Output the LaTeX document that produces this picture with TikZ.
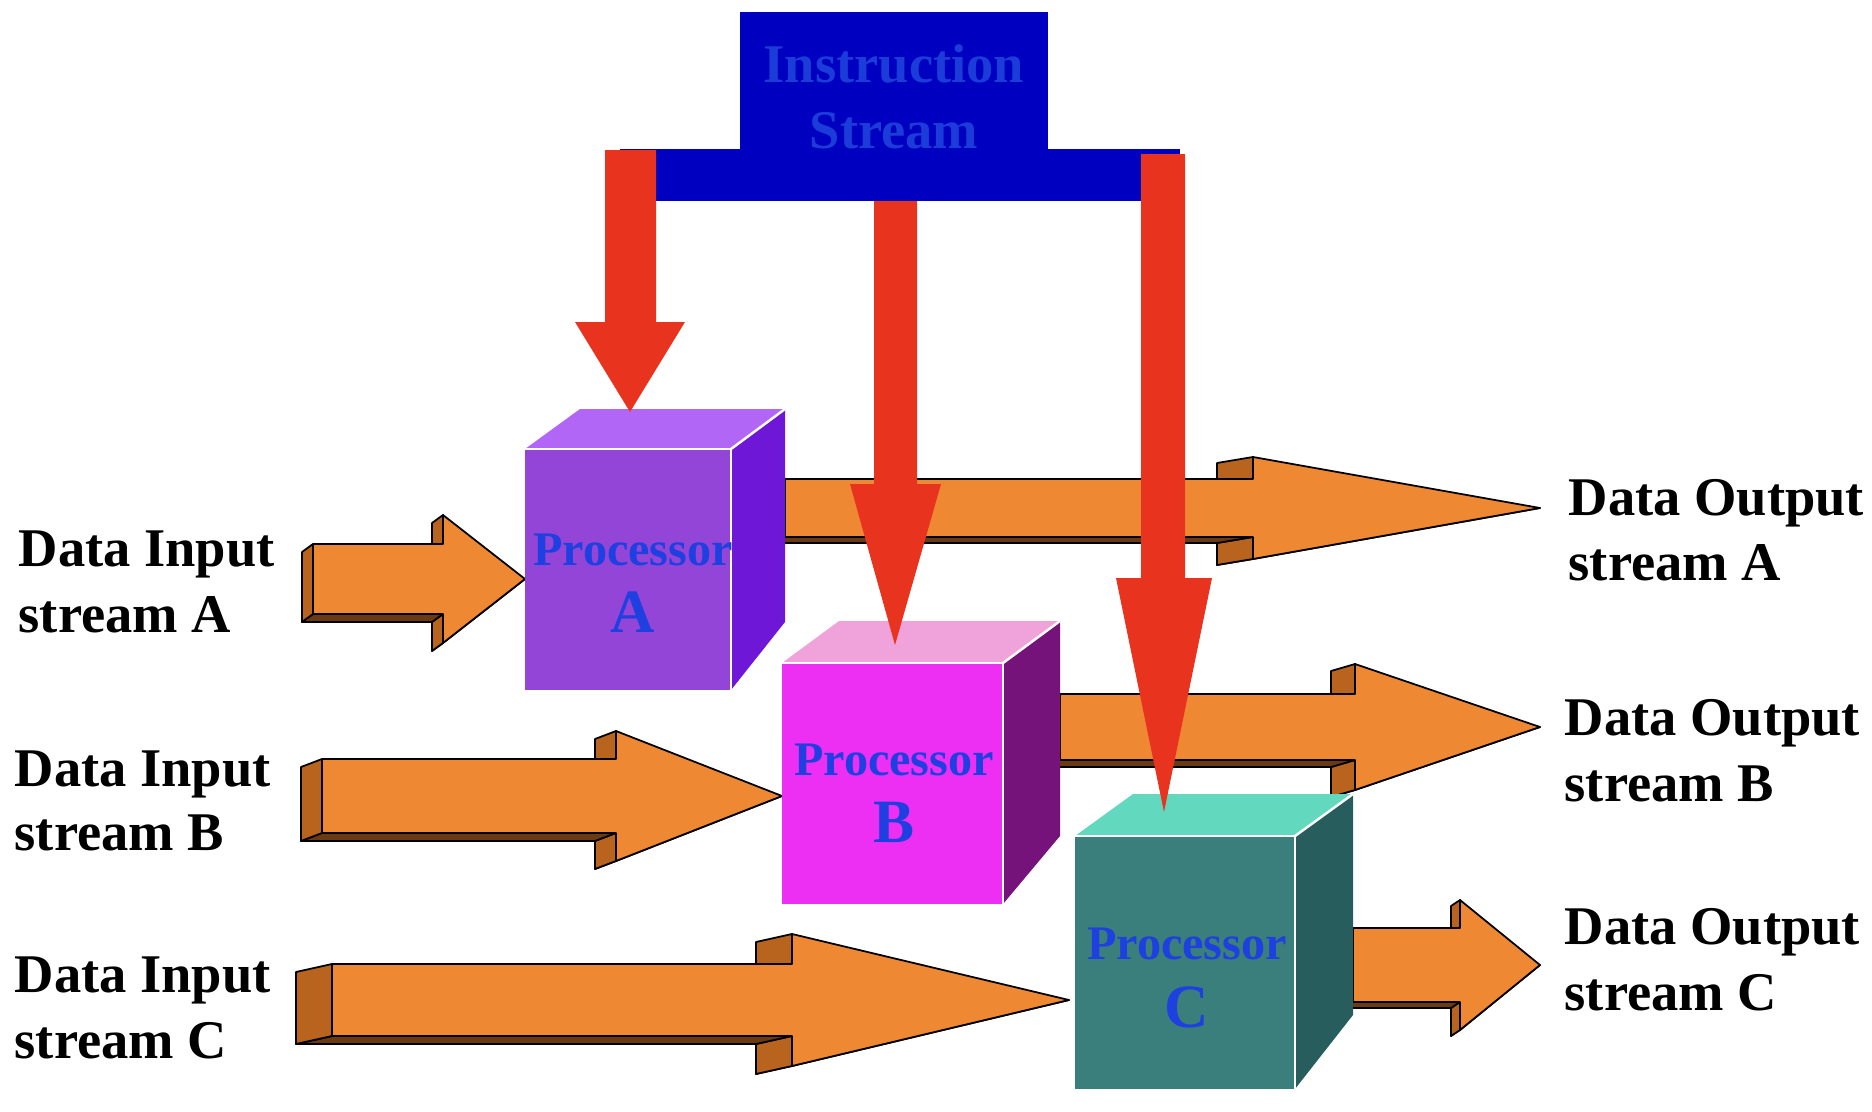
\documentclass[tikz,border=0pt]{standalone}
\usepackage{fontspec}
\setmainfont{Liberation Serif}
\definecolor{org}{HTML}{EF8833}
\definecolor{orgd}{HTML}{B8641F}
\definecolor{orgb}{HTML}{6A3A12}
\definecolor{redarr}{HTML}{E8331F}
\definecolor{barblue}{HTML}{0000C0}
\definecolor{insblue}{HTML}{1C3CDA}
\definecolor{txtblue}{HTML}{1E40E0}
\definecolor{aFront}{HTML}{9245D7}
\definecolor{aTop}{HTML}{B266F6}
\definecolor{aRight}{HTML}{6E17D7}
\definecolor{bFront}{HTML}{EC2FF2}
\definecolor{bTop}{HTML}{EFA3DA}
\definecolor{bRight}{HTML}{76137A}
\definecolor{cFront}{HTML}{3A7F7C}
\definecolor{cTop}{HTML}{62D9BE}
\definecolor{cRight}{HTML}{285D5D}

% 3D orange arrow: x0, xhead, xtip, ycenter, half shaft, half head, depth dx, depth dy
\newcommand\ThreeDArrow[8]{%
  \pgfmathsetmacro\arYa{#4-#5}\pgfmathsetmacro\arYb{#4+#5}%
  \pgfmathsetmacro\arYt{#4-#6}\pgfmathsetmacro\arYd{#4+#6}%
  \pgfmathsetmacro\arXo{#1-#7}\pgfmathsetmacro\arXh{#2-#7}\pgfmathsetmacro\arXt{#3-#7}%
  \pgfmathsetmacro\arYao{\arYa+#8}\pgfmathsetmacro\arYbo{\arYb+#8}%
  \pgfmathsetmacro\arYto{\arYt+#8}\pgfmathsetmacro\arYdo{\arYd+#8}\pgfmathsetmacro\arYco{#4+#8}%
  \filldraw[arrline,fill=orgb] (#3,#4) -- (#2,\arYd) -- (\arXh,\arYdo) -- (\arXt,\arYco) -- cycle;
  \filldraw[arrline,fill=orgd] (#2,\arYb) -- (#2,\arYd) -- (\arXh,\arYdo) -- (\arXh,\arYbo) -- cycle;
  \filldraw[arrline,fill=orgb] (#1,\arYb) -- (#2,\arYb) -- (\arXh,\arYbo) -- (\arXo,\arYbo) -- cycle;
  \filldraw[arrline,fill=orgd] (#1,\arYa) -- (#1,\arYb) -- (\arXo,\arYbo) -- (\arXo,\arYao) -- cycle;
  \filldraw[arrline,fill=orgd] (#2,\arYt) -- (#2,\arYa) -- (\arXh,\arYao) -- (\arXh,\arYto) -- cycle;
  \filldraw[arrline,fill=org] (#1,\arYa) -- (#2,\arYa) -- (#2,\arYt) -- (#3,#4) -- (#2,\arYd) -- (#2,\arYb) -- (#1,\arYb) -- cycle;
}

\begin{document}
\begin{tikzpicture}[x=0.01cm,y=-0.01cm,
  arrline/.style={draw=black,line width=0.5pt,line join=round},
  redstyle/.style={fill=redarr},
  edgewhite/.style={draw=white,line width=0.7pt,line join=round},
  lbl/.style={font=\fontsize{15.5}{18.7}\bfseries\selectfont,anchor=base west,inner sep=0pt},
  proc/.style={font=\fontsize{13.7}{16}\bfseries\selectfont,text=txtblue,anchor=base,inner sep=0pt},
  procletter/.style={font=\fontsize{17.5}{21}\bfseries\selectfont,text=txtblue,anchor=base,inner sep=0pt},
  instr/.style={font=\fontsize{15.5}{18.7}\bfseries\selectfont,text=insblue,anchor=base,inner sep=0pt}]
\useasboundingbox (0,0) rectangle (1872,1112);

% ---- orange data arrows (drawn behind the cubes)
\ThreeDArrow{313}{443}{525}{579}{35}{64}{11}{8}
\ThreeDArrow{322}{616}{782}{796}{37}{65}{21}{8}
\ThreeDArrow{332}{792}{1069}{1000}{36}{66}{36}{8}
\ThreeDArrow{785}{1253}{1540}{508}{29}{51}{36}{6}
\ThreeDArrow{1060}{1355}{1540}{727}{33}{63}{24}{7}
\ThreeDArrow{1353}{1460}{1540}{965}{37}{65}{9}{6}

% ---- cubes
% Cube A
\fill[aTop] (525,449) -- (731,449) -- (785,409) -- (580,409) -- cycle;
\fill[aRight] (731,449) -- (785,409) -- (785,622) -- (731,690) -- cycle;
\fill[aFront] (525,449) rectangle (731,690);
\draw[edgewhite] (525,449) -- (731,449) -- (731,690);
\draw[edgewhite] (731,449) -- (785,409);
% Cube B
\fill[bTop] (782,663) -- (1003,663) -- (1060,621) -- (839,621) -- cycle;
\fill[bRight] (1003,663) -- (1060,621) -- (1060,836) -- (1003,904) -- cycle;
\fill[bFront] (782,663) rectangle (1003,904);
\draw[edgewhite] (782,663) -- (1003,663) -- (1003,904);
\draw[edgewhite] (1003,663) -- (1060,621);
% Cube C
\fill[cTop] (1075,836) -- (1295,836) -- (1353,794) -- (1133,794) -- cycle;
\fill[cRight] (1295,836) -- (1353,794) -- (1353,1015) -- (1295,1089) -- cycle;
\fill[cFront] (1075,836) rectangle (1295,1089);
\draw[edgewhite] (1075,836) -- (1295,836) -- (1295,1089);
\draw[edgewhite] (1295,836) -- (1353,794);

\node[proc] (pa1) at (633,565) {Processor};
\node[procletter] (pa2) at (633,632) {A};
\node[proc] (pb1) at (894,775) {Processor};
\node[procletter] (pb2) at (894,842) {B};
\node[proc] (pc1) at (1187,959) {Processor};
\node[procletter] (pc2) at (1187,1027) {C};

% ---- instruction stream
\fill[barblue] (740,12) rectangle (1048,150);
\fill[barblue] (620,149) rectangle (1180,201);
\node[instr] (ins1) at (894,83) {Instruction};
\node[instr] (ins2) at (894,148) {Stream};

% ---- red instruction arrows
\fill[redstyle] (605,150) -- (656,150) -- (656,322) -- (685,322) -- (630,412) -- (575,322) -- (605,322) -- cycle;
\fill[redstyle] (874,201) -- (917,201) -- (917,484) -- (941,484) -- (895,645) -- (850,484) -- (874,484) -- cycle;
\fill[redstyle] (1141,154) -- (1185,154) -- (1185,578) -- (1212,578) -- (1164,812) -- (1116,578) -- (1141,578) -- cycle;

% ---- labels
\node[lbl] (ia1) at (18,566) {Data Input};
\node[lbl] (ia2) at (18,632) {stream A};
\node[lbl] (ib1) at (14,786) {Data Input};
\node[lbl] (ib2) at (14,850) {stream B};
\node[lbl] (ic1) at (14,992) {Data Input};
\node[lbl] (ic2) at (14,1058) {stream C};
\node[lbl] (oa1) at (1568,515) {Data Output};
\node[lbl] (oa2) at (1568,580) {stream A};
\node[lbl] (ob1) at (1564,735) {Data Output};
\node[lbl] (ob2) at (1564,801) {stream B};
\node[lbl] (oc1) at (1564,944) {Data Output};
\node[lbl] (oc2) at (1564,1010) {stream C};
\end{tikzpicture}
\end{document}
